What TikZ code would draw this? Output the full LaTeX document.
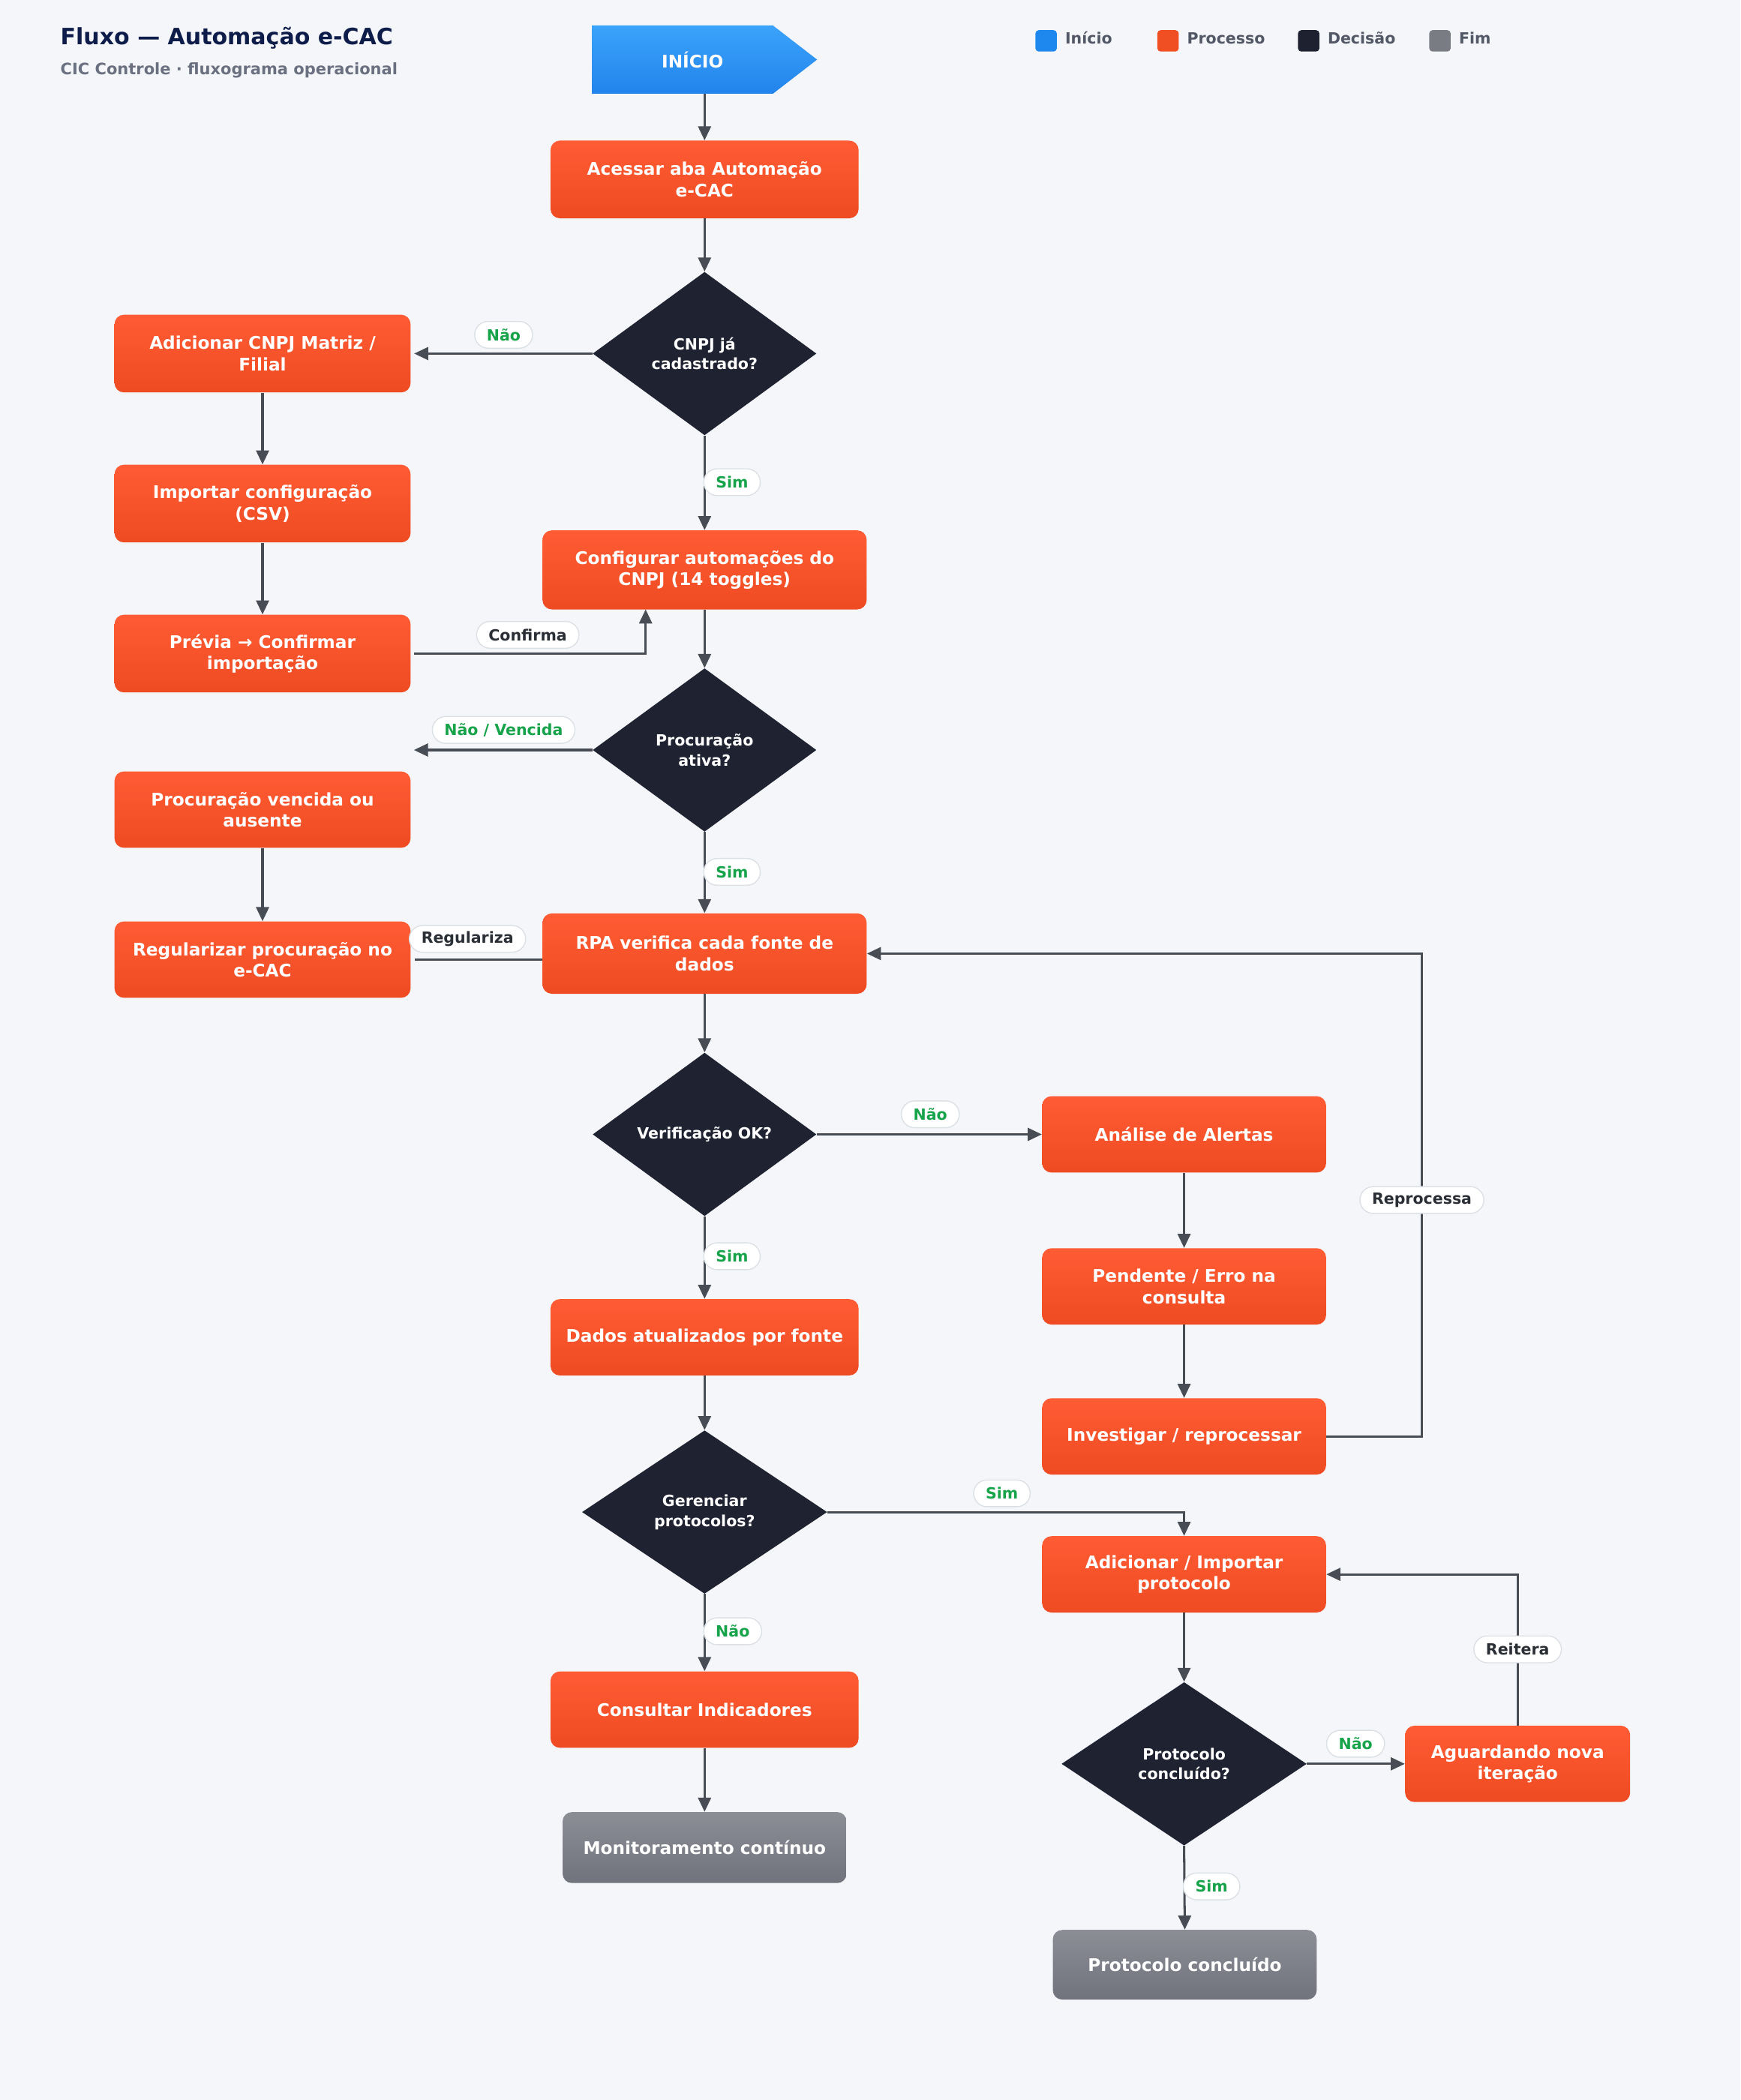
\documentclass[tikz,border=0pt]{standalone}
\usepackage{fontspec}
\setmainfont{DejaVu Sans}
\usetikzlibrary{arrows.meta,shapes.geometric}
\definecolor{bg}{HTML}{F4F6FA}
\definecolor{procTop}{HTML}{FF5C35}
\definecolor{procBot}{HTML}{EE4B22}
\definecolor{startTop}{HTML}{3BA3FB}
\definecolor{startBot}{HTML}{2284EC}
\definecolor{endTop}{HTML}{8C8E96}
\definecolor{endBot}{HTML}{70737C}
\definecolor{decis}{HTML}{1F2331}
\definecolor{lineC}{HTML}{474C55}
\definecolor{pillB}{HTML}{DCE1E5}
\definecolor{yesno}{HTML}{16A34A}
\definecolor{darkT}{HTML}{2A2E35}
\definecolor{titleC}{HTML}{0E1C4A}
\definecolor{subC}{HTML}{6B7080}
\definecolor{legC}{HTML}{535866}
\definecolor{legBlue}{HTML}{1E88EE}
\definecolor{legOrange}{HTML}{F04E23}
\definecolor{legDark}{HTML}{1E2230}
\definecolor{legGray}{HTML}{7A7C84}
\begin{document}
\begin{tikzpicture}[x=1pt,y=-1pt,
  proc/.style={rounded corners=7pt, top color=procTop, bottom color=procBot, draw=none,
    text=white, align=center, inner sep=0pt, font=\bfseries\fontsize{13}{16}\selectfont},
  term/.style={rounded corners=7pt, top color=endTop, bottom color=endBot, draw=none,
    text=white, align=center, inner sep=0pt, font=\bfseries\fontsize{13}{16}\selectfont},
  dec/.style={diamond, aspect=1.37, fill=decis, draw=none, text=white, align=center,
    inner sep=0pt, font=\bfseries\fontsize{11.5}{15}\selectfont},
  arr/.style={draw=lineC, line width=1.7pt, -{Triangle[length=10.5pt,width=9.5pt]}},
  plain/.style={draw=lineC, line width=1.7pt},
  lab/.style={fill=white, draw=pillB, line width=0.8pt, rounded corners=10pt,
    inner xsep=9pt, inner ysep=0pt, minimum height=20pt,
    font=\bfseries\fontsize{11.5}{13}\selectfont},
  labY/.style={lab, text=yesno},
  labN/.style={lab, text=darkT},
  legsq/.style={fill=#1, draw=none, rounded corners=2.5pt},
  legtxt/.style={anchor=base west, text=legC, font=\bfseries\fontsize{11.5}{13}\selectfont, inner sep=0pt}
]
% background / bounding box
\fill[bg] (0,0) rectangle (1299.2,1568);
\useasboundingbox (0,0) rectangle (1299.2,1568);

% title
\node[anchor=base west, inner sep=0pt, text=titleC, font=\bfseries\fontsize{16.8}{20}\selectfont] (title) at (45,33.6) {Fluxo — Automação e-CAC};
\node[anchor=base west, inner sep=0pt, text=subC, font=\bfseries\fontsize{11.75}{13}\selectfont] (subtitle) at (45,56) {CIC Controle · fluxograma operacional};

% legend
\fill[legsq=legBlue] (773,22.5) rectangle (789,38.5);
\node[legtxt] (lg1) at (795,32.6) {Início};
\fill[legsq=legOrange] (864,22.5) rectangle (880,38.5);
\node[legtxt] (lg2) at (886,32.6) {Processo};
\fill[legsq=legDark] (969,22.5) rectangle (985,38.5);
\node[legtxt] (lg3) at (991,32.6) {Decisão};
\fill[legsq=legGray] (1067,22.5) rectangle (1083,38.5);
\node[legtxt] (lg4) at (1089,32.6) {Fim};

% start shape
\shade[top color=startTop, bottom color=startBot] (442,19) -- (577,19) -- (610,44.5) -- (577,70) -- (442,70) -- cycle;
\node[text=white, font=\bfseries\fontsize{13}{16}\selectfont, inner sep=0pt] (inicio) at (517,44.5) {INÍCIO};
\coordinate (inicioB) at (526,70);

% main column
\node[proc, minimum width=230pt, minimum height=58pt] (acessar) at (526,134) {Acessar aba Automação\\e-CAC};
\node[dec, minimum width=167pt, minimum height=122pt] (d1) at (526,264) {CNPJ já\\cadastrado?};
\node[proc, minimum width=242pt, minimum height=59pt] (config) at (526,425.5) {Configurar automações do\\CNPJ (14 toggles)};
\node[dec, minimum width=167pt, minimum height=122pt] (d2) at (526,560) {Procuração\\ativa?};
\node[proc, minimum width=242pt, minimum height=60pt] (rpa) at (526,712) {RPA verifica cada fonte de\\dados};
\node[dec, minimum width=167pt, minimum height=122pt] (d3) at (526,847) {Verificação OK?};
\node[proc, minimum width=230pt, minimum height=57pt] (dados) at (526,998.5) {Dados atualizados por fonte};
\node[dec, minimum width=183pt, minimum height=122pt] (d4) at (526,1129) {Gerenciar\\protocolos?};
\node[proc, minimum width=230pt, minimum height=57pt] (consultar) at (526,1276.5) {Consultar Indicadores};
\node[term, minimum width=212pt, minimum height=53pt] (monitor) at (526,1379.5) {Monitoramento contínuo};

% left column
\node[proc, minimum width=221pt, minimum height=58pt] (addcnpj) at (196,264) {Adicionar CNPJ Matriz /\\Filial};
\node[proc, minimum width=221pt, minimum height=58pt] (importar) at (196,376) {Importar configuração\\(CSV)};
\node[proc, minimum width=221pt, minimum height=58pt] (previa) at (196,488) {Prévia → Confirmar\\importação};
\node[proc, minimum width=221pt, minimum height=57pt] (vencida) at (196,604.5) {Procuração vencida ou\\ausente};
\node[proc, minimum width=221pt, minimum height=57pt] (regular) at (196,716.5) {Regularizar procuração no\\e-CAC};

% right column
\node[proc, minimum width=212pt, minimum height=57pt] (alert) at (884,847) {Análise de Alertas};
\node[proc, minimum width=212pt, minimum height=57pt] (pend) at (884,960.5) {Pendente / Erro na\\consulta};
\node[proc, minimum width=212pt, minimum height=57pt] (invest) at (884,1072.5) {Investigar / reprocessar};
\node[proc, minimum width=212pt, minimum height=57pt] (addprot) at (884,1175.5) {Adicionar / Importar\\protocolo};
\node[dec, minimum width=183pt, minimum height=122pt] (d5) at (884,1317) {Protocolo\\concluído?};
\node[proc, minimum width=168pt, minimum height=57pt] (aguard) at (1133,1317) {Aguardando nova\\iteração};
\node[term, minimum width=197pt, minimum height=52pt] (protconc) at (884.5,1467) {Protocolo concluído};

\coordinate (cfIn) at (482,455);
\coordinate (nvEnd) at (309,560);

% connectors
\draw[arr] (inicioB) -- (acessar.north);
\draw[arr] (acessar.south) -- (d1.north);
\draw[arr, shorten >=2.5pt] (d1.west) -- (addcnpj.east);
\draw[arr] (d1.south) -- (config.north);
\draw[arr] (addcnpj.south) -- (importar.north);
\draw[arr] (importar.south) -- (previa.north);
\draw[arr] ([xshift=2.5pt]previa.east) -| (cfIn);
\draw[arr] (config.south) -- (d2.north);
\draw[arr] (d2.west) -- (nvEnd);
\draw[arr] (d2.south) -- (rpa.north);
\draw[arr] (vencida.south) -- (regular.north);
\draw[plain] (regular.east -| rpa.west) -- ([xshift=3pt]regular.east);
\draw[arr] (rpa.south) -- (d3.north);
\draw[arr] (d3.east) -- (d3.east -| alert.west);
\draw[arr] (alert.south) -- (pend.north);
\draw[arr] (pend.south) -- (invest.north);
\draw[arr] (invest.east) -- ++(71,0) |- (rpa.east);
\draw[arr] (d3.south) -- (dados.north);
\draw[arr] (dados.south) -- (d4.north);
\draw[arr] (d4.east) -| (addprot.north);
\draw[arr] (d4.south) -- (consultar.north);
\draw[arr] (consultar.south) -- (monitor.north);
\draw[arr] (addprot.south) -- (d5.north);
\draw[arr] (d5.east) -- (d5.east -| aguard.west);
\draw[arr] (aguard.north) |- (addprot.east);
\draw[arr] (d5.south) -- (protconc.north);

% labels
\node[labY] (lNao1) at (376,250) {Não};
\node[labY] (lSim1) at (546.5,360) {Sim};
\node[labN] (lConf) at (394,474) {Confirma};
\node[labY] (lNaoV) at (376,545) {Não / Vencida};
\node[labY] (lSim2) at (546.5,651) {Sim};
\node[labN] (lReg) at (349,701) {Regulariza};
\node[labY] (lNao2) at (694.5,832) {Não};
\node[labN] (lRep) at (1061.5,896) {Reprocessa};
\node[labY] (lSim3) at (546.5,938) {Sim};
\node[labY] (lSim4) at (748,1115) {Sim};
\node[labY] (lNao3) at (547,1218) {Não};
\node[labN] (lReit) at (1133,1231.5) {Reitera};
\node[labY] (lNao4) at (1012,1302) {Não};
\node[labY] (lSim5) at (904.5,1408.5) {Sim};
\end{tikzpicture}
\end{document}
